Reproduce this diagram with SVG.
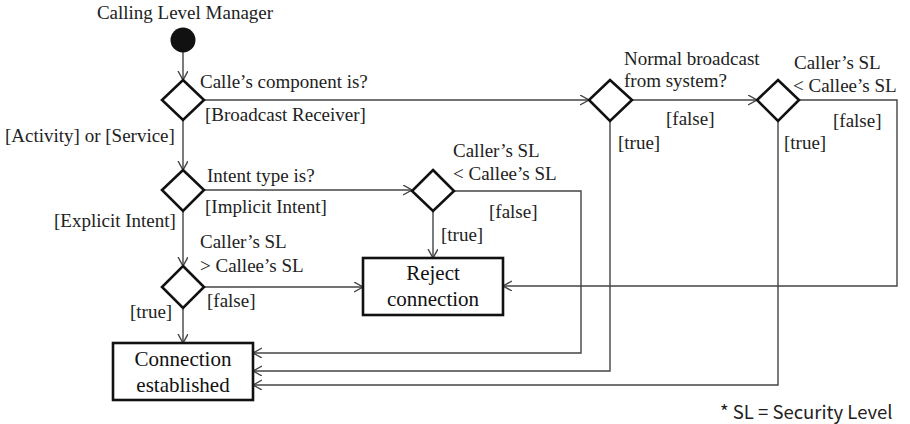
<svg xmlns="http://www.w3.org/2000/svg" width="910" height="424" viewBox="0 0 910 424">
  <style>
    .t { font-family: "Liberation Serif", "Times New Roman", serif; font-size: 19px; fill: #222; }
    .bt { font-family: "Liberation Serif", "Times New Roman", serif; font-size: 21px; fill: #111; text-anchor: middle; }
    .note { font-family: "Noto Sans CJK KR", "Noto Sans", sans-serif; font-size: 18.5px; fill: #222; }
    .dec { fill: #fff; stroke: #111; stroke-width: 2.6; stroke-linejoin: miter; }
    .box { fill: #fff; stroke: #111; stroke-width: 2.6; }
    .ln { fill: none; stroke: #444; stroke-width: 1.4; }
  </style>
  <defs>
    <marker id="arr" markerUnits="userSpaceOnUse" markerWidth="12" markerHeight="12" refX="9" refY="5" orient="auto">
      <path d="M0,0 L9,5 L0,10" fill="none" stroke="#444" stroke-width="1.4"/>
    </marker>
  </defs>

  <rect width="910" height="424" fill="#fff"/>

  <!-- connectors -->
  <g id="connectors" class="ln">
    <path d="M183,52 V80" marker-end="url(#arr)"/>
    <path d="M183,120 V170" marker-end="url(#arr)"/>
    <path d="M183,211 V266" marker-end="url(#arr)"/>
    <path d="M183,308 V343" marker-end="url(#arr)"/>
    <path d="M204,100 H589" marker-end="url(#arr)"/>
    <path d="M632,100 H757" marker-end="url(#arr)"/>
    <path d="M799,100 H897 V286 H503" marker-end="url(#arr)"/>
    <path d="M204,190 H412" marker-end="url(#arr)"/>
    <path d="M433,211 V258" marker-end="url(#arr)"/>
    <path d="M454,191 H581 V353 H253" marker-end="url(#arr)"/>
    <path d="M610,121 V371 H253" marker-end="url(#arr)"/>
    <path d="M778,121 V385 H253" marker-end="url(#arr)"/>
    <path d="M204,287 H363" marker-end="url(#arr)"/>
  </g>

  <!-- start -->
  <g id="start">
    <text class="t" x="185" y="19" text-anchor="middle">Calling Level Manager</text>
    <circle cx="183" cy="40" r="12.5" fill="#111"/>
  </g>

  <!-- decision: component type -->
  <g id="d-component">
    <polygon class="dec" points="183,80 204,100 183,120 162,100"/>
    <text class="t" x="200" y="88">Calle’s component is?</text>
    <text class="t" x="205" y="121">[Broadcast Receiver]</text>
    <text class="t" x="5" y="142">[Activity] or [Service]</text>
  </g>

  <!-- decision: intent type -->
  <g id="d-intent">
    <polygon class="dec" points="183,170 204,190 183,211 162,190"/>
    <text class="t" x="207" y="182">Intent type is?</text>
    <text class="t" x="205" y="213">[Implicit Intent]</text>
    <text class="t" x="54" y="227">[Explicit Intent]</text>
  </g>

  <!-- decision: caller SL greater -->
  <g id="d-explicit-sl">
    <polygon class="dec" points="183,266 204,287 183,308 162,287"/>
    <text class="t" x="200" y="248">Caller’s SL</text>
    <text class="t" x="200" y="272">&gt; Callee’s SL</text>
    <text class="t" x="207" y="307">[false]</text>
    <text class="t" x="130" y="318">[true]</text>
  </g>

  <!-- decision: implicit caller SL lower -->
  <g id="d-implicit-sl">
    <polygon class="dec" points="433,170 454,191 433,211 412,191"/>
    <text class="t" x="453" y="157">Caller’s SL</text>
    <text class="t" x="453" y="180">&lt; Callee’s SL</text>
    <text class="t" x="489" y="218">[false]</text>
    <text class="t" x="441" y="241">[true]</text>
  </g>

  <!-- decision: normal broadcast -->
  <g id="d-broadcast">
    <polygon class="dec" points="610,80 632,100 610,121 589,100"/>
    <text class="t" x="624" y="65">Normal broadcast</text>
    <text class="t" x="624" y="87">from system?</text>
    <text class="t" x="666" y="125">[false]</text>
    <text class="t" x="618" y="149">[true]</text>
  </g>

  <!-- decision: broadcast caller SL lower -->
  <g id="d-broadcast-sl">
    <polygon class="dec" points="778,80 799,100 778,121 757,100"/>
    <text class="t" x="794" y="69">Caller’s SL</text>
    <text class="t" x="793" y="92">&lt; Callee’s SL</text>
    <text class="t" x="833" y="127">[false]</text>
    <text class="t" x="784" y="149">[true]</text>
  </g>

  <!-- outcome: reject -->
  <g id="reject">
    <rect class="box" x="363" y="258" width="140" height="57"/>
    <text class="bt" x="433" y="280">Reject</text>
    <text class="bt" x="433" y="306">connection</text>
  </g>

  <!-- outcome: established -->
  <g id="established">
    <rect class="box" x="113" y="343" width="140" height="57"/>
    <text class="bt" x="183" y="366">Connection</text>
    <text class="bt" x="183" y="392">established</text>
  </g>

  <!-- legend -->
  <text class="note" x="720" y="419">* SL = Security Level</text>
</svg>
